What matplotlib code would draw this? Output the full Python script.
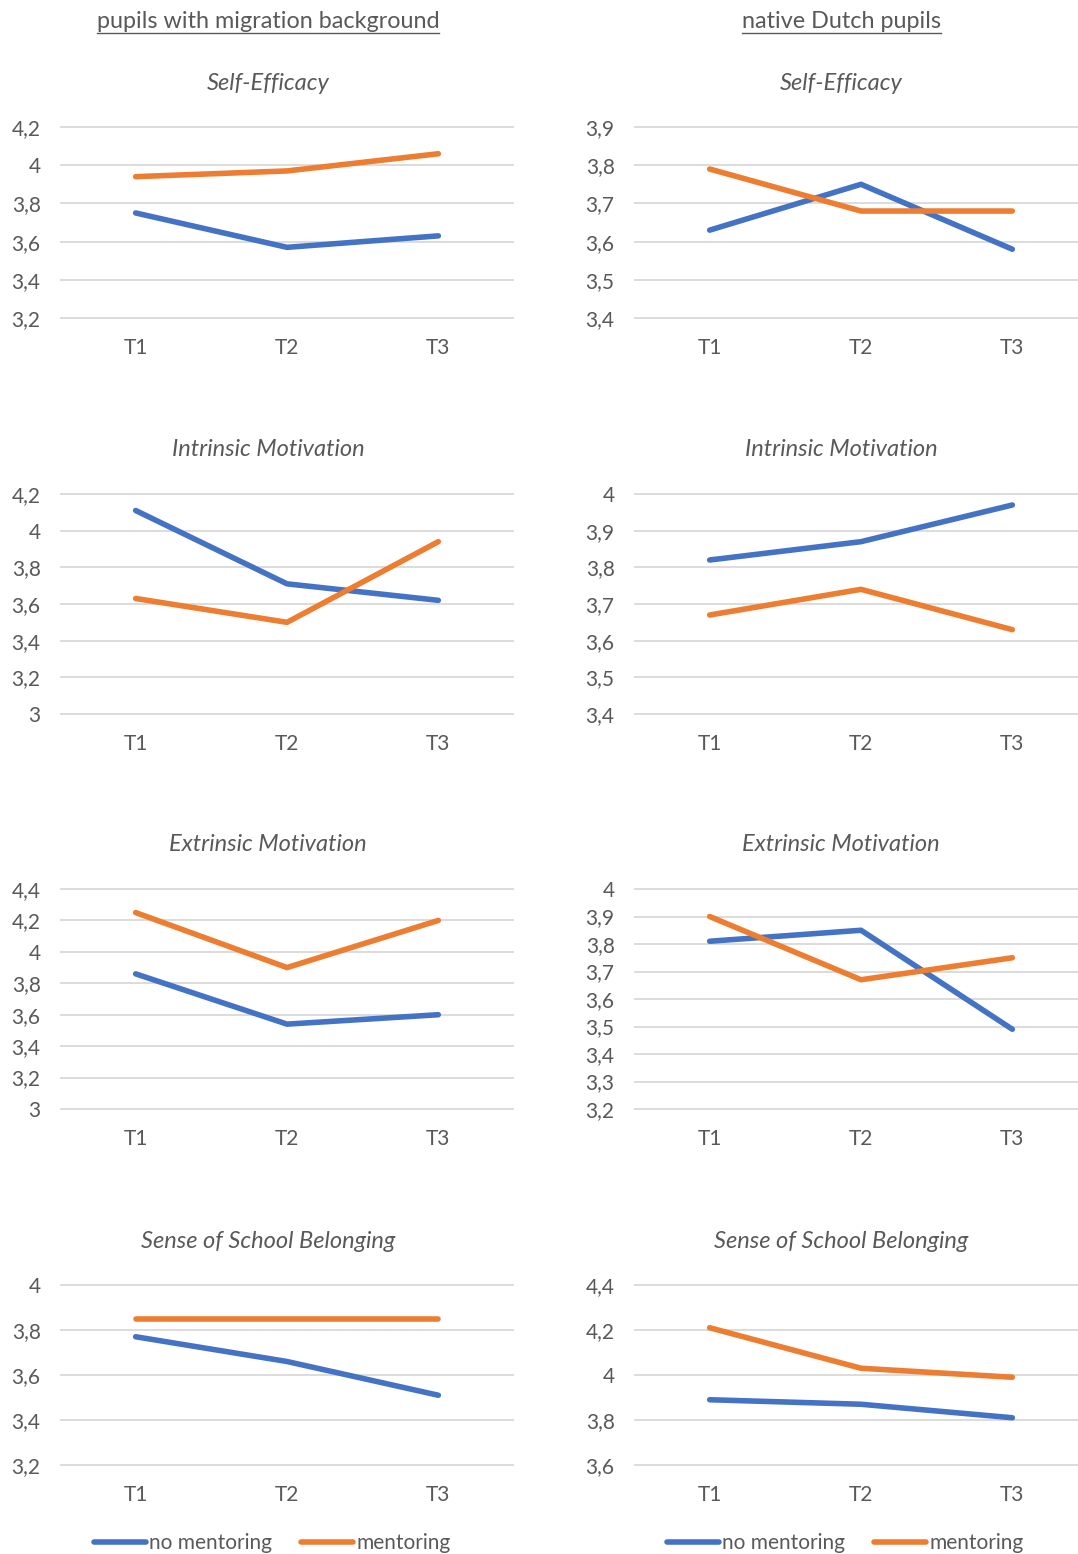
import matplotlib
matplotlib.use("Agg")
import matplotlib.pyplot as plt
from matplotlib.lines import Line2D

W, H = 1078, 1554
blue, orange = "#4472C4", "#ED7D31"
grey = "#595959"
plt.rcParams['font.family'] = ['Lato', 'DejaVu Sans']

times = ["T1", "T2", "T3"]
groups = ["pupils with migration background", "native Dutch pupils"]
scales = ["Self-Efficacy", "Intrinsic Motivation", "Extrinsic Motivation", "Sense of School Belonging"]

# pupils with migration background
mig_no = [[3.75, 3.57, 3.63], [4.11, 3.71, 3.62], [3.86, 3.54, 3.60], [3.77, 3.66, 3.51]]
mig_yes = [[3.94, 3.97, 4.06], [3.63, 3.50, 3.94], [4.25, 3.90, 4.20], [3.85, 3.85, 3.85]]
mig_ticks = [[3.2, 3.4, 3.6, 3.8, 4.0, 4.2],
             [3.0, 3.2, 3.4, 3.6, 3.8, 4.0, 4.2],
             [3.0, 3.2, 3.4, 3.6, 3.8, 4.0, 4.2, 4.4],
             [3.2, 3.4, 3.6, 3.8, 4.0]]

# native Dutch pupils
nat_no = [[3.63, 3.75, 3.58], [3.82, 3.87, 3.97], [3.81, 3.85, 3.49], [3.89, 3.87, 3.81]]
nat_yes = [[3.79, 3.68, 3.68], [3.67, 3.74, 3.63], [3.90, 3.67, 3.75], [4.21, 4.03, 3.99]]
nat_ticks = [[3.4, 3.5, 3.6, 3.7, 3.8, 3.9],
             [3.4, 3.5, 3.6, 3.7, 3.8, 3.9, 4.0],
             [3.2, 3.3, 3.4, 3.5, 3.6, 3.7, 3.8, 3.9, 4.0],
             [3.6, 3.8, 4.0, 4.2, 4.4]]

# pixel layout: (top grid, bottom grid, title y) per row
rows_px = [(127, 318, 83), (494, 714, 450), (889, 1109, 845), (1285, 1465, 1241)]
cols_px = [(60, 514, 268), (634, 1088, 841)]

fig = plt.figure(figsize=(W / 100, H / 100), dpi=100)


def fmt(v):
    return f"{v:g}".replace(".", ",")


pad = 3
for c, (no_all, yes_all, ticks_all) in enumerate([(mig_no, mig_yes, mig_ticks), (nat_no, nat_yes, nat_ticks)]):
    x0, x1, xc = cols_px[c]
    fig.text(xc / W, 1 - 21 / H, groups[c], ha="center", va="center", fontsize=16.8, color=grey)
    for r in range(4):
        ytop, ybot, ytitle = rows_px[r]
        ticks = ticks_all[r]
        lo, hi = ticks[0], ticks[-1]
        per_px = (hi - lo) / (ybot - ytop)
        ax = fig.add_axes([x0 / W, 1 - (ybot + pad) / H, (x1 - x0) / W, (ybot - ytop + 2 * pad) / H])
        ax.set_ylim(lo - pad * per_px, hi + pad * per_px)
        ax.set_xlim(-0.5, 2.5)
        ax.set_yticks(ticks)
        ax.set_yticklabels([fmt(t) for t in ticks])
        ax.set_xticks(range(3))
        ax.set_xticklabels(times)
        ax.tick_params(length=0, labelsize=15, labelcolor=grey)
        ax.tick_params(axis="y", pad=14)
        ax.tick_params(axis="x", pad=12)
        ax.grid(axis="y", color="#D9D9D9", linewidth=1.3)
        ax.set_axisbelow(True)
        for s in ax.spines.values():
            s.set_visible(False)
        ax.plot(range(3), no_all[r], color=blue, lw=4, solid_capstyle="round", label="no mentoring")
        ax.plot(range(3), yes_all[r], color=orange, lw=4, solid_capstyle="round", label="mentoring")
        fig.text(xc / W, 1 - ytitle / H, scales[r], ha="center", va="center", fontsize=17,
                 style="italic", color=grey)
    # legend for the column
    fig.legend(handles=[Line2D([], [], color=blue, lw=4, solid_capstyle="round"),
                        Line2D([], [], color=orange, lw=4, solid_capstyle="round")],
               labels=["no mentoring", "mentoring"], loc="center",
               bbox_to_anchor=(xc / W + 4 / W, 1 - 1543 / H), ncol=2, frameon=False,
               fontsize=15, handlelength=2.5, handletextpad=0.15, columnspacing=1.4,
               labelcolor=grey)

# underline the group headers
fig.canvas.draw()
rend = fig.canvas.get_renderer()
for t in fig.texts[:]:
    if t.get_text() in groups:
        bb = t.get_window_extent(rend)
        yl = (bb.y0 - 1) / H
        fig.add_artist(Line2D([bb.x0 / W, bb.x1 / W], [yl, yl], color=grey, lw=1.0))

fig.savefig("out.png", dpi=100)
